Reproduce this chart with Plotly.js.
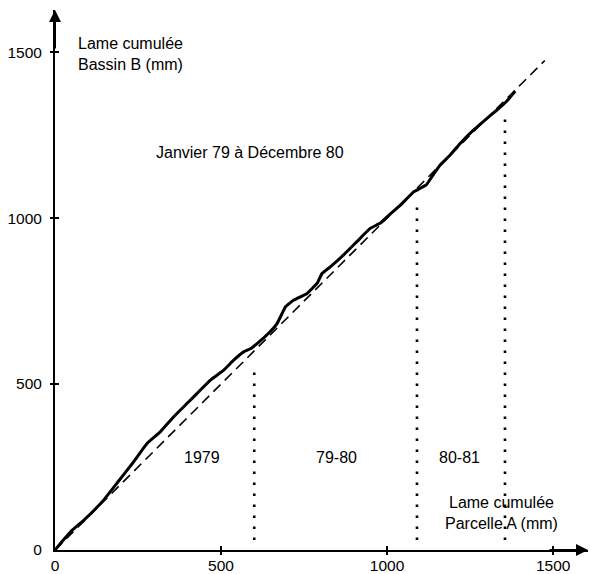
<!DOCTYPE html>
<html>
<head>
<meta charset="utf-8">
<script src="https://cdn.plot.ly/plotly-3.0.1.min.js"></script>
<style>
  html, body { margin: 0; padding: 0; background: #fff; }
  #chart { width: 590px; height: 574px; }
</style>
</head>
<body>
<div id="chart"></div>
<script>
// Cumulative depth: plot A (x) against catchment B (y), mm
const parcelleA = [0, 20, 47, 87, 120, 147, 187, 237, 277, 317, 357, 398, 428, 468, 508, 538, 568, 590, 612, 640, 669, 684, 694, 719, 759, 789, 804, 829, 869, 909, 949, 980, 1000, 1040, 1080, 1100, 1118, 1135, 1160, 1190, 1220, 1260, 1300, 1330, 1345, 1360, 1372, 1386];
const bassinB   = [0, 24, 55, 90, 122, 151, 202, 266, 321, 356, 401, 442, 472, 512, 542, 572, 597, 607, 625, 650, 683, 713, 733, 753, 773, 803, 833, 853, 889, 929, 969, 985, 1004, 1039, 1079, 1090, 1100, 1125, 1160, 1190, 1225, 1265, 1300, 1325, 1338, 1352, 1366, 1382];

// 1:1 reference line
const bisectrice = [0, 1475];

// Season boundaries (dotted verticals)
const limitesA = [600, 1090, 1355];
const limitesHaut = [560, 1053, 1320];
const limiteBas = 30;

// Season names
const saisons = ['1979', '79-80', '80-81'];

// Axis ticks
const tickVals = [0, 500, 1000, 1500];
const tickMarks = [500, 1000, 1500];

const FONT = 'Liberation Sans, Arial, sans-serif';
const traces = [];

traces.push({
  x: bisectrice, y: bisectrice, mode: 'lines', hoverinfo: 'skip',
  line: { color: '#000', width: 1.6, dash: '10px,6px' }
});

limitesA.forEach((xv, i) => {
  traces.push({
    x: [xv, xv], y: [limiteBas, limitesHaut[i]], mode: 'lines', hoverinfo: 'skip',
    line: { color: '#000', width: 2.6, dash: '2.6px,8.4px' }
  });
});

traces.push({
  x: parcelleA, y: bassinB, mode: 'lines', hoverinfo: 'skip',
  line: { color: '#000', width: 3, shape: 'spline', smoothing: 0.3 }
});

// empty traces so the tick-only overlay axes get drawn
traces.push({ x: [], y: [], xaxis: 'x2', yaxis: 'y2', mode: 'lines', hoverinfo: 'skip' });
traces.push({ x: [], y: [], xaxis: 'x3', yaxis: 'y3', mode: 'lines', hoverinfo: 'skip' });

const XR = [0, 1605], YR = [0, 1627];
const common = { showgrid: false, zeroline: false, fixedrange: true };

const layout = {
  width: 590, height: 574,
  margin: { l: 54.5, r: 2, t: 10, b: 24 },
  paper_bgcolor: '#fff', plot_bgcolor: '#fff',
  showlegend: false,
  font: { family: FONT, size: 15, color: '#000' },
  xaxis: Object.assign({}, common, {
    range: XR, showline: true, linecolor: '#000', linewidth: 2,
    tickmode: 'array', tickvals: tickVals, ticktext: tickVals.map(String),
    ticks: '', ticklabelstandoff: 0, tickfont: { family: FONT, size: 15.5 }
  }),
  xaxis2: Object.assign({}, common, {
    range: XR, overlaying: 'x', anchor: 'y2', side: 'bottom', showline: false,
    tickmode: 'array', tickvals: tickMarks, showticklabels: false,
    ticks: 'outside', ticklen: 4, tickwidth: 1.5, tickcolor: '#000'
  }),
  xaxis3: Object.assign({}, common, {
    range: XR, overlaying: 'x', anchor: 'y3', side: 'bottom', showline: false,
    tickmode: 'array', tickvals: tickMarks, showticklabels: false,
    ticks: 'inside', ticklen: 4, tickwidth: 1.5, tickcolor: '#000'
  }),
  yaxis: Object.assign({}, common, {
    range: YR, showline: true, linecolor: '#000', linewidth: 2,
    tickmode: 'array', tickvals: tickVals, ticktext: tickVals.map(String),
    ticks: '', ticklabelstandoff: 8, tickfont: { family: FONT, size: 15.5 }
  }),
  yaxis2: Object.assign({}, common, {
    range: YR, overlaying: 'y', anchor: 'x2', side: 'left', showline: false,
    tickmode: 'array', tickvals: tickMarks, showticklabels: false,
    ticks: 'outside', ticklen: 4, tickwidth: 1.5, tickcolor: '#000'
  }),
  yaxis3: Object.assign({}, common, {
    range: YR, overlaying: 'y', anchor: 'x3', side: 'left', showline: false,
    tickmode: 'array', tickvals: tickMarks, showticklabels: false,
    ticks: 'inside', ticklen: 4, tickwidth: 1.5, tickcolor: '#000'
  }),
  annotations: [
    // axis arrowheads
    { xref: 'paper', yref: 'paper', x: 1, y: 0, ax: -40, ay: 0, text: '',
      showarrow: true, arrowhead: 2, arrowsize: 1.2, arrowwidth: 2, arrowcolor: '#000', standoff: 0 },
    { xref: 'paper', yref: 'paper', x: 0, y: 1, ax: 0, ay: 40, text: '',
      showarrow: true, arrowhead: 2, arrowsize: 1.2, arrowwidth: 2, arrowcolor: '#000', standoff: 0 },
    // axis names
    { xref: 'x', yref: 'y', x: 62, y: 1495, xanchor: 'left', yanchor: 'middle', align: 'left',
      text: 'Lame cumulée<br>Bassin B (mm)', showarrow: false, font: { family: FONT, size: 16 } },
    { xref: 'x', yref: 'y', x: 1344, y: 110, xanchor: 'center', yanchor: 'middle', align: 'center',
      text: 'Lame cumulée<br>Parcelle A (mm)', showarrow: false, font: { family: FONT, size: 16 } },
    // period
    { xref: 'x', yref: 'y', x: 588, y: 1199, xanchor: 'center', yanchor: 'middle',
      text: 'Janvier 79 à Décembre 80', showarrow: false, font: { family: FONT, size: 16 } },
    // seasons
    { xref: 'x', yref: 'y', x: 444, y: 280, text: saisons[0], showarrow: false, font: { family: FONT, size: 16 } },
    { xref: 'x', yref: 'y', x: 849, y: 280, text: saisons[1], showarrow: false, font: { family: FONT, size: 16 } },
    { xref: 'x', yref: 'y', x: 1218, y: 280, text: saisons[2], showarrow: false, font: { family: FONT, size: 16 } }
  ]
};

Plotly.newPlot('chart', traces, layout, { displayModeBar: false, staticPlot: true });
</script>
</body>
</html>
